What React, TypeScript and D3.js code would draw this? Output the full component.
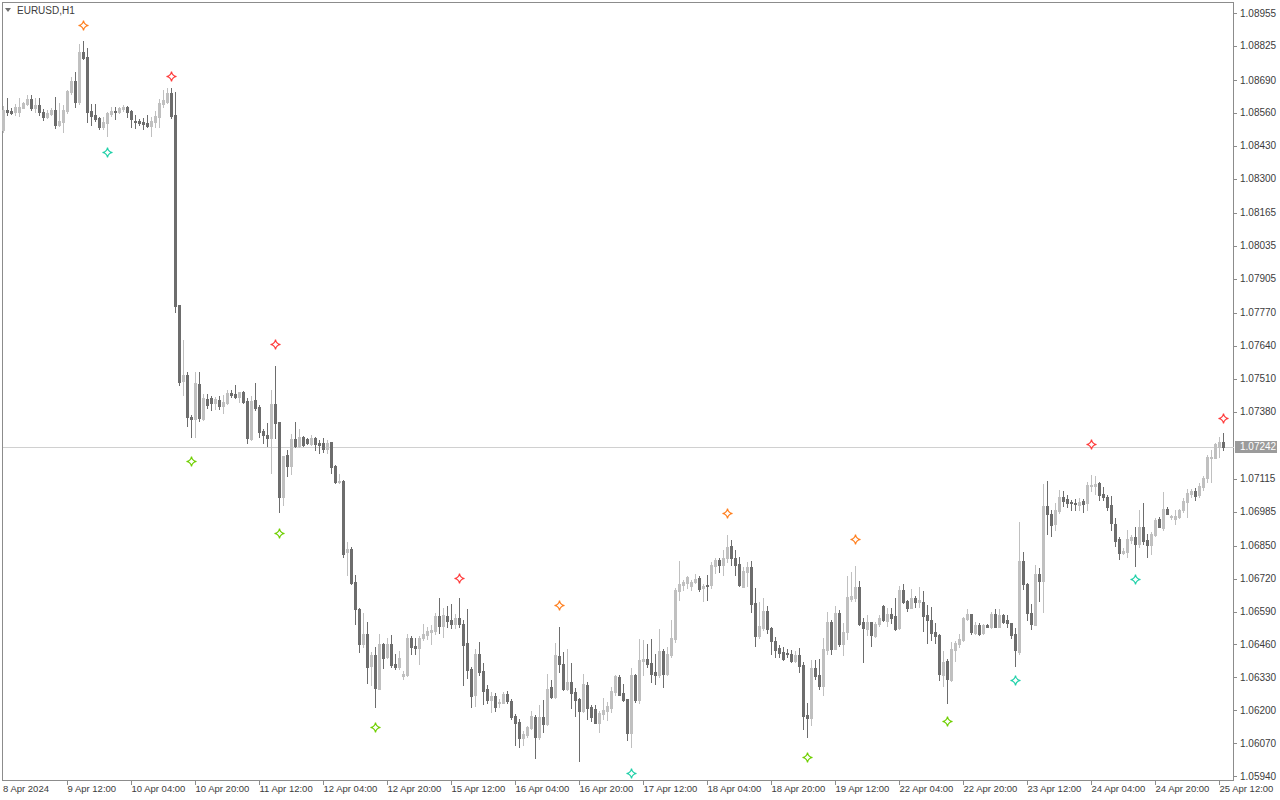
import React from 'react';
import * as d3 from 'd3';

// EURUSD H1, 306 bars from 8 Apr 2024 20:00
const opens = [
  1.08492, 1.08571, 1.08567, 1.08562, 1.08565, 1.0858, 1.08596, 1.08615, 1.0858, 1.08591,
  1.08563, 1.08546, 1.08556, 1.08571, 1.08512, 1.08525, 1.08567, 1.08644, 1.08686, 1.08604,
  1.08802, 1.08781, 1.08567, 1.08552, 1.08539, 1.08505, 1.08521, 1.08556, 1.08569, 1.08562,
  1.08574, 1.08584, 1.08569, 1.08529, 1.08528, 1.08525, 1.08521, 1.08508, 1.08525, 1.08545,
  1.08595, 1.08603, 1.0864, 1.08552, 1.07801, 1.07502, 1.07524, 1.07359, 1.07351, 1.07488,
  1.0735, 1.07429, 1.07432, 1.07415, 1.07425, 1.07403, 1.07415, 1.07454, 1.07449, 1.07438,
  1.07458, 1.07422, 1.07271, 1.07425, 1.07398, 1.07303, 1.07287, 1.07276, 1.07409, 1.07338,
  1.07043, 1.07208, 1.07164, 1.07271, 1.07243, 1.07278, 1.0727, 1.07251, 1.07274, 1.07256,
  1.07256, 1.07233, 1.07259, 1.07164, 1.071, 1.07105, 1.06826, 1.06836, 1.06706, 1.066,
  1.0646, 1.06502, 1.06374, 1.06417, 1.06284, 1.06461, 1.06411, 1.06461, 1.06383, 1.06369,
  1.06336, 1.06338, 1.06487, 1.06453, 1.06446, 1.06485, 1.06496, 1.06509, 1.06513, 1.06572,
  1.06533, 1.06572, 1.06556, 1.0654, 1.06566, 1.0654, 1.06464, 1.06363, 1.06259, 1.06424,
  1.06355, 1.06283, 1.0624, 1.06257, 1.06228, 1.06229, 1.06263, 1.06236, 1.06176, 1.06153,
  1.06091, 1.06101, 1.0613, 1.06174, 1.06095, 1.06174, 1.06145, 1.06291, 1.06253, 1.06414,
  1.06382, 1.06284, 1.06311, 1.06271, 1.06245, 1.06197, 1.06299, 1.06212, 1.06204, 1.0615,
  1.06184, 1.06197, 1.06209, 1.06271, 1.06332, 1.06266, 1.06244, 1.06108, 1.06338, 1.0624,
  1.06394, 1.06402, 1.06385, 1.0635, 1.06338, 1.06433, 1.06342, 1.06417, 1.06483, 1.06672,
  1.06694, 1.06703, 1.0669, 1.06706, 1.06722, 1.06683, 1.06694, 1.06694, 1.0677, 1.06793,
  1.06773, 1.068, 1.06848, 1.06802, 1.06777, 1.06687, 1.06747, 1.06766, 1.06624, 1.06492,
  1.06523, 1.06591, 1.06524, 1.06474, 1.06445, 1.0643, 1.06426, 1.06421, 1.06394, 1.06417,
  1.06378, 1.0618, 1.0617, 1.06367, 1.06338, 1.06295, 1.06437, 1.06549, 1.06442, 1.06585,
  1.0646, 1.06508, 1.06638, 1.06642, 1.06687, 1.06548, 1.0652, 1.06548, 1.06492, 1.06539,
  1.06611, 1.06553, 1.06582, 1.06572, 1.06523, 1.06674, 1.06631, 1.06604, 1.06645, 1.06627,
  1.06626, 1.06578, 1.06556, 1.06509, 1.06498, 1.06338, 1.06395, 1.06319, 1.06437, 1.06461,
  1.06477, 1.0656, 1.0658, 1.06506, 1.06536, 1.06507, 1.06536, 1.06529, 1.06582, 1.06529,
  1.06576, 1.06556, 1.06543, 1.065, 1.0643, 1.06789, 1.06698, 1.06585, 1.06536, 1.06738,
  1.06711, 1.07006, 1.06977, 1.06935, 1.06987, 1.07041, 1.07033, 1.07023, 1.07019, 1.0701,
  1.07026, 1.07017, 1.07087, 1.07085, 1.07096, 1.07054, 1.07043, 1.0701, 1.06935, 1.06875,
  1.06822, 1.06826, 1.06872, 1.06885, 1.06856, 1.06924, 1.06872, 1.06852, 1.06892, 1.06955,
  1.06918, 1.06997, 1.06962, 1.06954, 1.06964, 1.0699, 1.07023, 1.07054, 1.07067, 1.0705,
  1.07083, 1.07116, 1.07195, 1.07195, 1.07241, 1.0726,
];
const highs = [
  1.08588, 1.08619, 1.0858, 1.08594, 1.08618, 1.08604, 1.08631, 1.08631, 1.08618, 1.08618,
  1.08574, 1.08571, 1.0858, 1.08623, 1.08598, 1.08591, 1.0865, 1.08703, 1.0872, 1.08831,
  1.08844, 1.08817, 1.08594, 1.08596, 1.08545, 1.08544, 1.08565, 1.08582, 1.08584, 1.08584,
  1.08592, 1.08587, 1.08571, 1.08552, 1.08535, 1.08539, 1.08552, 1.08545, 1.08569, 1.08614,
  1.0865, 1.08657, 1.08657, 1.08644, 1.07801, 1.07662, 1.07537, 1.07366, 1.07537, 1.07537,
  1.07448, 1.07448, 1.07441, 1.07438, 1.07441, 1.07445, 1.07465, 1.07465, 1.07484, 1.07458,
  1.07462, 1.07432, 1.07441, 1.07494, 1.07405, 1.07313, 1.07333, 1.07465, 1.0756, 1.07339,
  1.07204, 1.07228, 1.07291, 1.07338, 1.07313, 1.07283, 1.07274, 1.07287, 1.07278, 1.07267,
  1.07274, 1.07267, 1.07259, 1.07168, 1.07133, 1.07109, 1.06865, 1.06845, 1.06736, 1.06602,
  1.06585, 1.06549, 1.0643, 1.0645, 1.065, 1.06466, 1.06487, 1.06496, 1.06421, 1.06434,
  1.06354, 1.06503, 1.06492, 1.06487, 1.06492, 1.0654, 1.06529, 1.06536, 1.06585, 1.06644,
  1.06604, 1.06611, 1.06619, 1.0658, 1.06644, 1.06556, 1.06598, 1.06371, 1.0644, 1.0647,
  1.06387, 1.06299, 1.06272, 1.06266, 1.06246, 1.06272, 1.06276, 1.06246, 1.06184, 1.06167,
  1.06117, 1.06137, 1.06197, 1.0618, 1.0622, 1.0624, 1.06342, 1.06319, 1.06466, 1.06529,
  1.0643, 1.0644, 1.06387, 1.06286, 1.0625, 1.06342, 1.06312, 1.0622, 1.0622, 1.06197,
  1.06249, 1.06233, 1.06292, 1.06338, 1.06338, 1.06303, 1.06246, 1.06365, 1.06345, 1.06481,
  1.06477, 1.06461, 1.06483, 1.06421, 1.0652, 1.0644, 1.0645, 1.06556, 1.06681, 1.06789,
  1.06714, 1.0673, 1.06714, 1.06738, 1.0673, 1.06698, 1.06734, 1.06786, 1.068, 1.068,
  1.06832, 1.06892, 1.06872, 1.06832, 1.06804, 1.06766, 1.06786, 1.06789, 1.06681, 1.06628,
  1.06642, 1.06611, 1.06529, 1.0649, 1.06457, 1.0645, 1.0644, 1.06437, 1.06434, 1.06444,
  1.06391, 1.06227, 1.06398, 1.06398, 1.06402, 1.06486, 1.06589, 1.06556, 1.06611, 1.06595,
  1.06545, 1.06731, 1.06747, 1.06769, 1.0671, 1.06566, 1.06576, 1.06549, 1.06547, 1.06576,
  1.06616, 1.06602, 1.06602, 1.06642, 1.0669, 1.06698, 1.06635, 1.06678, 1.06651, 1.06687,
  1.06672, 1.06615, 1.06606, 1.06543, 1.06503, 1.06433, 1.06404, 1.0647, 1.06473, 1.065,
  1.06569, 1.06598, 1.06582, 1.06549, 1.06545, 1.0654, 1.0654, 1.06589, 1.06598, 1.06598,
  1.06582, 1.06576, 1.06545, 1.06523, 1.06944, 1.06826, 1.06703, 1.06619, 1.06773, 1.06763,
  1.07093, 1.07106, 1.06991, 1.07019, 1.0707, 1.07066, 1.0705, 1.0703, 1.07033, 1.07037,
  1.07033, 1.07102, 1.07129, 1.07125, 1.07102, 1.07083, 1.0705, 1.07046, 1.06958, 1.06883,
  1.06839, 1.06911, 1.06892, 1.06925, 1.0699, 1.07017, 1.06898, 1.06905, 1.06958, 1.06962,
  1.07063, 1.07002, 1.06971, 1.0699, 1.06997, 1.07037, 1.07076, 1.07076, 1.0708, 1.07096,
  1.07125, 1.07208, 1.07228, 1.07254, 1.0728, 1.07294,
];
const lows = [
  1.08486, 1.08552, 1.08554, 1.08552, 1.08549, 1.08578, 1.08591, 1.0857, 1.08562, 1.08552,
  1.08533, 1.08541, 1.08552, 1.08501, 1.08508, 1.08486, 1.08558, 1.08636, 1.08584, 1.08594,
  1.08773, 1.08523, 1.08512, 1.08528, 1.08496, 1.08495, 1.08469, 1.08548, 1.08535, 1.08558,
  1.08569, 1.08545, 1.08505, 1.08499, 1.08512, 1.08497, 1.08505, 1.08469, 1.08505, 1.08505,
  1.08584, 1.08598, 1.08542, 1.07774, 1.07485, 1.07445, 1.07322, 1.07278, 1.0728, 1.07343,
  1.07346, 1.07396, 1.07386, 1.07392, 1.07392, 1.07373, 1.07409, 1.07438, 1.07432, 1.07418,
  1.07415, 1.07256, 1.07267, 1.07388, 1.0728, 1.07254, 1.07243, 1.07138, 1.07274, 1.06984,
  1.0701, 1.07125, 1.07133, 1.07241, 1.07241, 1.07243, 1.07251, 1.07247, 1.07228, 1.07215,
  1.07221, 1.07215, 1.07138, 1.07096, 1.07096, 1.06804, 1.06736, 1.06698, 1.0654, 1.0643,
  1.0645, 1.06306, 1.06299, 1.06213, 1.06282, 1.06365, 1.06408, 1.06371, 1.06361, 1.06363,
  1.06323, 1.06334, 1.06421, 1.06424, 1.06381, 1.06477, 1.06483, 1.06461, 1.065, 1.06506,
  1.0649, 1.06527, 1.06525, 1.06523, 1.06529, 1.06299, 1.06329, 1.06211, 1.06216, 1.06338,
  1.06223, 1.06227, 1.06193, 1.06197, 1.06213, 1.06227, 1.06229, 1.06167, 1.06062, 1.06053,
  1.06062, 1.06095, 1.06124, 1.06013, 1.06088, 1.06114, 1.06141, 1.0625, 1.0625, 1.06351,
  1.06279, 1.06279, 1.06207, 1.06178, 1.06, 1.06193, 1.06167, 1.06157, 1.06148, 1.06114,
  1.06165, 1.06161, 1.06193, 1.06259, 1.06259, 1.06237, 1.06084, 1.06053, 1.06233, 1.06227,
  1.06338, 1.06369, 1.06312, 1.06303, 1.06332, 1.0629, 1.06338, 1.06411, 1.0647, 1.06635,
  1.06674, 1.06683, 1.06674, 1.06703, 1.06672, 1.06632, 1.06635, 1.06681, 1.06743, 1.06747,
  1.06736, 1.06786, 1.06773, 1.06736, 1.0669, 1.06685, 1.0669, 1.06589, 1.06453, 1.06485,
  1.06516, 1.06506, 1.06421, 1.06411, 1.06411, 1.064, 1.06411, 1.06391, 1.06391, 1.06351,
  1.06124, 1.06095, 1.06141, 1.06325, 1.06283, 1.06259, 1.06424, 1.06421, 1.0644, 1.06454,
  1.06417, 1.06483, 1.06632, 1.06632, 1.06536, 1.06391, 1.06496, 1.06453, 1.0649, 1.06532,
  1.06553, 1.06532, 1.06545, 1.06516, 1.06519, 1.06624, 1.06593, 1.06602, 1.06608, 1.06608,
  1.06512, 1.06466, 1.06477, 1.06466, 1.06319, 1.06295, 1.06229, 1.06316, 1.06395, 1.0645,
  1.06473, 1.06556, 1.065, 1.065, 1.06499, 1.06503, 1.06527, 1.06523, 1.06527, 1.06527,
  1.06545, 1.06529, 1.06487, 1.06374, 1.06424, 1.06677, 1.06556, 1.06519, 1.06536, 1.06632,
  1.06589, 1.06896, 1.06888, 1.06911, 1.0698, 1.07006, 1.07004, 1.06991, 1.0699, 1.0699,
  1.06984, 1.06993, 1.07067, 1.07054, 1.0703, 1.0703, 1.0699, 1.06914, 1.06848, 1.06796,
  1.06819, 1.06806, 1.06861, 1.06769, 1.06845, 1.06856, 1.06804, 1.06819, 1.06888, 1.06922,
  1.06914, 1.06975, 1.06954, 1.06935, 1.06958, 1.06984, 1.06962, 1.07043, 1.0703, 1.07043,
  1.07072, 1.07102, 1.07102, 1.07195, 1.07201, 1.0723,
];
const closes = [
  1.08571, 1.08565, 1.08559, 1.08583, 1.08583, 1.086, 1.08615, 1.08578, 1.08591, 1.08562,
  1.08545, 1.08561, 1.08571, 1.08513, 1.08528, 1.08571, 1.08646, 1.08686, 1.08604, 1.08802,
  1.08778, 1.08565, 1.08549, 1.08536, 1.08504, 1.08525, 1.08558, 1.08569, 1.08563, 1.0858,
  1.08584, 1.08565, 1.08536, 1.08524, 1.08519, 1.08516, 1.08508, 1.08529, 1.08548, 1.086,
  1.08611, 1.0864, 1.08548, 1.07797, 1.07497, 1.07524, 1.07359, 1.07351, 1.07494, 1.07355,
  1.07432, 1.07405, 1.07415, 1.07428, 1.07403, 1.07418, 1.07454, 1.07446, 1.07438, 1.07457,
  1.07418, 1.07276, 1.07422, 1.07395, 1.073, 1.07287, 1.07276, 1.07409, 1.07336, 1.07043,
  1.07204, 1.07164, 1.07271, 1.07243, 1.07278, 1.07249, 1.07256, 1.07274, 1.07251, 1.07249,
  1.07232, 1.07256, 1.07162, 1.07101, 1.07105, 1.06819, 1.06836, 1.06701, 1.06598, 1.0646,
  1.06502, 1.06371, 1.06417, 1.06288, 1.06461, 1.06407, 1.06461, 1.06378, 1.0637, 1.06406,
  1.06342, 1.06487, 1.0645, 1.06446, 1.06487, 1.065, 1.06513, 1.06516, 1.06572, 1.06533,
  1.06576, 1.06552, 1.0654, 1.06566, 1.06539, 1.06457, 1.06358, 1.06257, 1.06424, 1.0635,
  1.06275, 1.0624, 1.06257, 1.06213, 1.06232, 1.06263, 1.06237, 1.06174, 1.0615, 1.06091,
  1.06105, 1.06132, 1.06176, 1.06095, 1.06174, 1.06145, 1.06283, 1.06253, 1.06417, 1.06381,
  1.06284, 1.06311, 1.06268, 1.06242, 1.06197, 1.06302, 1.06209, 1.06174, 1.0615, 1.06189,
  1.062, 1.06217, 1.06276, 1.06334, 1.06262, 1.0624, 1.06108, 1.06338, 1.0624, 1.06398,
  1.06402, 1.06382, 1.06345, 1.06338, 1.06433, 1.06345, 1.06421, 1.06487, 1.06674, 1.06698,
  1.06706, 1.06725, 1.06706, 1.06718, 1.0668, 1.0669, 1.0669, 1.06773, 1.06793, 1.06773,
  1.068, 1.06845, 1.068, 1.06773, 1.06694, 1.06751, 1.06766, 1.06619, 1.06493, 1.06532,
  1.06591, 1.0652, 1.06474, 1.06437, 1.06427, 1.06403, 1.06421, 1.06395, 1.06417, 1.06375,
  1.06178, 1.0617, 1.06367, 1.06336, 1.06295, 1.06441, 1.06549, 1.06441, 1.06585, 1.0646,
  1.06508, 1.06648, 1.06652, 1.06687, 1.0654, 1.06525, 1.06548, 1.06496, 1.0654, 1.06565,
  1.06556, 1.0658, 1.06566, 1.0652, 1.06674, 1.06628, 1.06604, 1.06645, 1.06627, 1.06635,
  1.06573, 1.06556, 1.06506, 1.06494, 1.06342, 1.06391, 1.06323, 1.06441, 1.06466, 1.06481,
  1.06565, 1.0658, 1.06509, 1.06536, 1.065, 1.06536, 1.06529, 1.0658, 1.06529, 1.06576,
  1.06549, 1.06543, 1.06496, 1.06437, 1.06789, 1.06698, 1.06585, 1.0654, 1.06738, 1.06711,
  1.07006, 1.06975, 1.06931, 1.0699, 1.07041, 1.07027, 1.07019, 1.07017, 1.07015, 1.07023,
  1.07014, 1.07089, 1.07091, 1.07093, 1.0705, 1.07043, 1.07004, 1.06938, 1.06869, 1.06822,
  1.06828, 1.06875, 1.06885, 1.06856, 1.06924, 1.06869, 1.06852, 1.06898, 1.06951, 1.06924,
  1.06997, 1.06977, 1.06967, 1.06968, 1.0699, 1.07026, 1.0706, 1.07067, 1.07046, 1.07085,
  1.07118, 1.07199, 1.07201, 1.07251, 1.0726, 1.07242,
];

const priceTicks = [
  1.08955, 1.08825, 1.0869, 1.0856, 1.0843, 1.083, 1.08165, 1.08035, 1.07905, 1.0777,
  1.0764, 1.0751, 1.0738, 1.07115, 1.06985, 1.0685, 1.0672, 1.0659, 1.0646, 1.0633,
  1.062, 1.0607, 1.0594,
];
const currentPrice = 1.07242;

const firstTimeLabel = '8 Apr 2024';
const timeLabelBars = [16, 32, 48, 64, 80, 96, 112, 128, 144, 160, 176, 192, 208, 224, 240, 256, 272, 288, 304];
const timeLabels = [
  '9 Apr 12:00', '10 Apr 04:00', '10 Apr 20:00', '11 Apr 12:00', '12 Apr 04:00', '12 Apr 20:00',
  '15 Apr 12:00', '16 Apr 04:00', '16 Apr 20:00', '17 Apr 12:00', '18 Apr 04:00', '18 Apr 20:00',
  '19 Apr 12:00', '22 Apr 04:00', '22 Apr 20:00', '23 Apr 12:00', '24 Apr 04:00', '24 Apr 20:00',
  '25 Apr 12:00',
];

// fractal-style markers: bar index, price, colour key
const markerBars = [20, 42, 26, 68, 47, 69, 114, 93, 139, 157, 181, 201, 213, 236, 253, 272, 283, 305];
const markerPrices = [
  1.08907, 1.08706, 1.08405, 1.07646, 1.07184, 1.069, 1.06722, 1.06133, 1.06615, 1.05951,
  1.06979, 1.06014, 1.06876, 1.06157, 1.06319, 1.07251, 1.06718, 1.07354,
];
const markerKinds = [
  'orange', 'red', 'aqua', 'red', 'green', 'green', 'red', 'green', 'orange', 'aqua',
  'orange', 'green', 'orange', 'green', 'aqua', 'red', 'aqua', 'red',
];

const markerColors: Record<string, string> = {
  orange: '#ff7f1e',
  red: '#ff3b3b',
  green: '#6fcf00',
  aqua: '#1fd0a8',
};

const W = 1280;
const H = 800;
const plot = { left: 2.5, top: 2.5, right: 1233.5, bottom: 780.5 };
const UP = '#c0c0c0';
const DOWN = '#6d6d6d';
const AXIS_TEXT = '#3c3c3c';

export default function App() {
  const x = d3.scaleLinear().domain([0, 305]).range([3.3, 1223.3]);
  const y = d3.scaleLinear().domain([1.0594, 1.08955]).range([776, 13]);
  const star = 'M0,-5 Q0.6,-0.6 5,0 Q0.6,0.6 0,5 Q-0.6,0.6 -5,0 Q-0.6,-0.6 0,-5 Z';
  const cy = y(currentPrice);

  return (
    <div>
      <style>{'body{margin:0;background:#fff}'}</style>
      <svg width={W} height={H} style={{ display: 'block', background: '#fff' }}
        fontFamily="'Liberation Sans', Arial, sans-serif">
        {/* chart frame */}
        <rect x={plot.left} y={plot.top} width={plot.right - plot.left} height={plot.bottom - plot.top}
          fill="#fff" stroke="#8c8c8c" strokeWidth={1} shapeRendering="crispEdges" />

        {/* current price line */}
        <line x1={plot.left} x2={plot.right} y1={Math.round(cy) + 0.5} y2={Math.round(cy) + 0.5}
          stroke="#d0d0d0" strokeWidth={1} shapeRendering="crispEdges" />

        {/* candles */}
        <g shapeRendering="crispEdges">
          {closes.map((c, i) => {
            const o = opens[i];
            const cx = Math.round(x(i));
            const col = c >= o ? UP : DOWN;
            const yTop = Math.round(y(Math.max(o, c)));
            const yBot = Math.round(y(Math.min(o, c)));
            return (
              <g key={i}>
                <line x1={cx + 0.5} x2={cx + 0.5} y1={Math.round(y(highs[i]))} y2={Math.round(y(lows[i])) + 1}
                  stroke={col} strokeWidth={1} />
                <rect x={cx - 1} y={yTop} width={3} height={Math.max(1, yBot - yTop + 1)} fill={col} />
              </g>
            );
          })}
        </g>

        {/* markers */}
        {markerBars.map((b, k) => (
          <path key={k} d={star}
            transform={`translate(${Math.round(x(b)) + 0.5},${Math.round(y(markerPrices[k])) + 0.5})`}
            fill="#fff" stroke={markerColors[markerKinds[k]]} strokeWidth={1.2} />
        ))}

        {/* title */}
        <path d="M5,8 L11,8 L8,12 Z" fill="#707070" />
        <text x={17} y={13.5} fontSize={10} fill={AXIS_TEXT}>EURUSD,H1</text>

        {/* price axis */}
        <g>
          {priceTicks.map((p) => (
            <g key={p}>
              <line x1={plot.right} x2={plot.right + 3} y1={Math.round(y(p)) + 0.5} y2={Math.round(y(p)) + 0.5}
                stroke="#8c8c8c" shapeRendering="crispEdges" />
              <text x={1240} y={y(p)} dy="0.35em" fontSize={10} fill={AXIS_TEXT}>{p.toFixed(5)}</text>
            </g>
          ))}
          <rect x={1235} y={Math.round(cy) - 6} width={42} height={12} fill="#9b9b9b" shapeRendering="crispEdges" />
          <text x={1240} y={cy} dy="0.35em" fontSize={10} fill="#fff">{currentPrice.toFixed(5)}</text>
        </g>

        {/* time axis */}
        <g>
          <text x={3} y={792} fontSize={9.5} fill={AXIS_TEXT}>{firstTimeLabel}</text>
          {timeLabelBars.map((b, k) => {
            const tx = Math.round(x(b)) + 0.5;
            return (
              <g key={b}>
                <line x1={tx} x2={tx} y1={plot.bottom} y2={plot.bottom + 4} stroke="#8c8c8c" shapeRendering="crispEdges" />
                <text x={tx} y={792} fontSize={9.5} fill={AXIS_TEXT}>{timeLabels[k]}</text>
              </g>
            );
          })}
        </g>
      </svg>
    </div>
  );
}
